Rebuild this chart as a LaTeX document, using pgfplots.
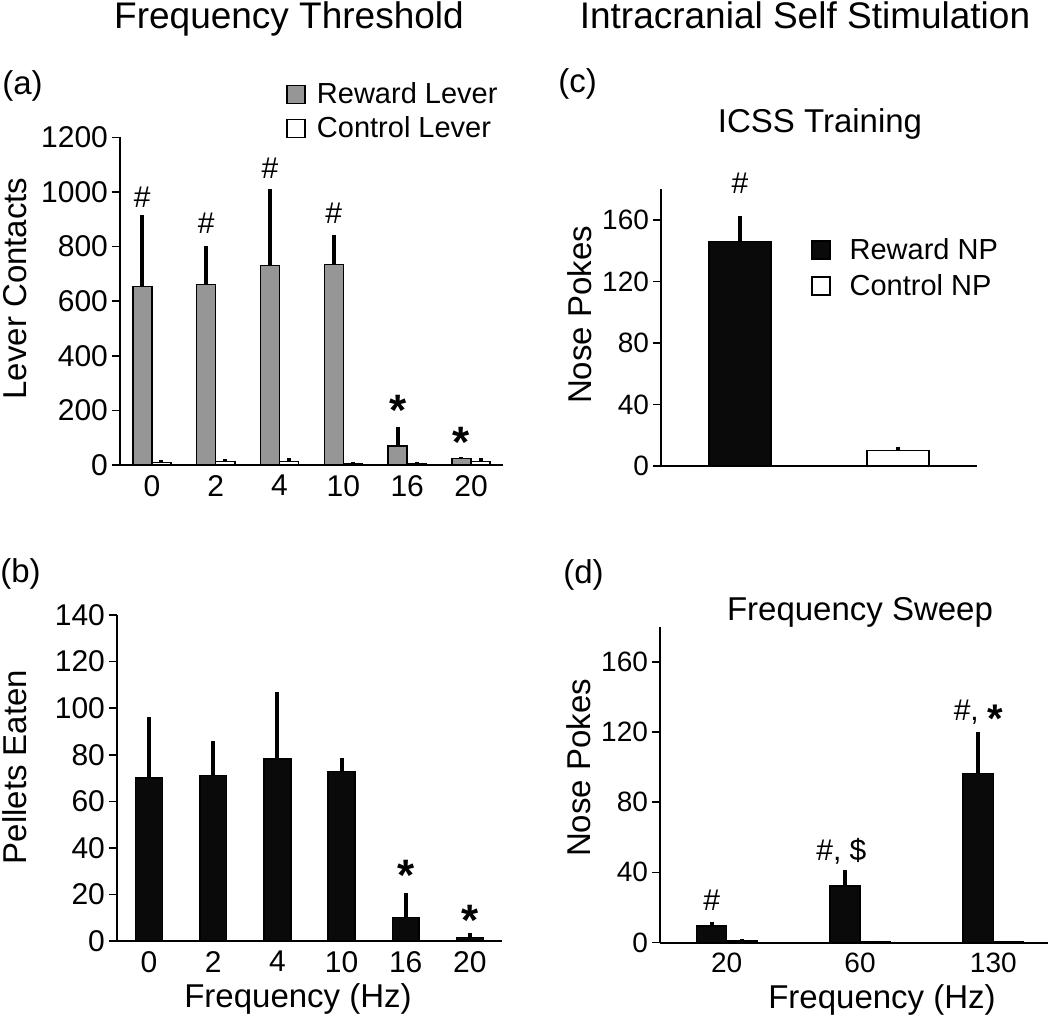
\documentclass[border=0pt]{standalone}
\usepackage{pgfplots}
\pgfplotsset{compat=1.18}
\usepackage{fontspec}
\setmainfont{Liberation Sans}
\definecolor{rwgray}{RGB}{150,150,150}
\definecolor{barblack}{RGB}{10,10,10}
\newcommand\fs[1]{\fontsize{#1}{#1}\selectfont}

\pgfplotsset{
  panel/.style={
    scale only axis, anchor=south west,
    axis x line*=bottom, axis y line*=left,
    axis line style={line width=1pt, -},
    ymin=0, clip=false,
    tick align=outside, major tick length=4pt,
    ytick style={line width=0.8pt, black},
    xtick style={draw=none},
    scaled y ticks=false,
    /pgf/number format/assume math mode=true,
    /pgf/number format/1000 sep={},
    tick label style={font=\fs{15}},
    yticklabel style={xshift=1.5pt},
    xticklabel style={yshift=2.5pt},
    ybar,
    legend style={draw=none, fill=none, font=\fs{14.5}, legend cell align=left,
      anchor=north west, row sep=2pt, nodes={inner sep=1.5pt},
      /tikz/every odd column/.append style={column sep=4pt}},
  },
  eb/.style={draw=black, line width=0.75pt,
    error bars/.cd, y dir=plus, y explicit, error mark=none,
    error bar style={line width=2pt, black}},
}
\tikzset{
  hash/.style={font=\fs{15}, anchor=base, yshift=-5.3pt, inner sep=0pt},
  star/.style={font=\fs{22}\bfseries, anchor=base, yshift=-12pt, inner sep=0pt},
}

\begin{document}
\begin{tikzpicture}
\useasboundingbox (0pt,0pt) rectangle (525pt,-509.5pt);

% column titles
\node[anchor=base, font=\fs{18.5}] at (144.5pt,-14pt) {Frequency Threshold};
\node[anchor=base, font=\fs{18.5}] at (402.5pt,-14pt) {Intracranial Self Stimulation};

% panel letters
\node[anchor=west, font=\fs{16.5}, inner sep=0pt] at (1pt,-43pt) {(a)};
\node[anchor=west, font=\fs{16.5}, inner sep=0pt] at (0pt,-287pt) {(b)};
\node[anchor=west, font=\fs{16.5}, inner sep=0pt] at (279pt,-42pt) {(c)};
\node[anchor=west, font=\fs{16.5}, inner sep=0pt] at (281.5pt,-287.5pt) {(d)};

% axis labels
\node[rotate=90, font=\fs{16.5}] at (7.5pt,-144.25pt) {Lever Contacts};
\node[rotate=90, font=\fs{16.5}] at (7.5pt,-383.5pt) {Pellets Eaten};
\node[rotate=90, font=\fs{16.5}] at (290pt,-157.5pt) {Nose Pokes};
\node[rotate=90, font=\fs{16.5}] at (289.5pt,-384pt) {Nose Pokes};
\node[anchor=base, font=\fs{16.5}] at (149pt,-503.5pt) {Frequency (Hz)};
\node[anchor=base, font=\fs{16.5}] at (441pt,-504pt) {Frequency (Hz)};
\node[anchor=base, font=\fs{16.5}] at (410pt,-66pt) {ICSS Training};
\node[anchor=base, font=\fs{16.5}] at (430pt,-310pt) {Frequency Sweep};

% (a) lever contacts
\begin{axis}[panel, at={(60pt,-232.5pt)}, width=191.5pt, height=163.85pt,
  xmin=-0.5, xmax=5.5, ymax=1200, ytick={0,200,...,1200},
  xtick={0,...,5}, xticklabels={0,2,4,10,16,20}, bar width=0.3,
  legend style={at={(0.418,1.19)}}]
\addlegendimage{legend image code/.code={\draw[fill=rwgray,draw=black,line width=0.75pt] (0pt,-4.5pt) rectangle (9pt,4.5pt);}}
\addlegendentry{Reward Lever}
\addlegendimage{legend image code/.code={\draw[fill=white,draw=black,line width=0.75pt] (0pt,-4.5pt) rectangle (9pt,4.5pt);}}
\addlegendentry{Control Lever}
\addplot[fill=rwgray, bar shift=-0.15, eb] coordinates {
  (0,653) +- (0,262) (1,661) +- (0,142) (2,730) +- (0,280)
  (3,735) +- (0,107) (4,70) +- (0,68) (5,24) +- (0,6)};
\addplot[fill=white, bar shift=0.15, eb] coordinates {
  (0,10) +- (0,7) (1,13) +- (0,9) (2,13) +- (0,13)
  (3,5) +- (0,5) (4,4) +- (0,8) (5,13) +- (0,13)};
\node[hash] at (axis cs:-0.15,981) {\#};
\node[hash] at (axis cs:0.85,886) {\#};
\node[hash] at (axis cs:1.85,1087) {\#};
\node[hash] at (axis cs:2.85,922) {\#};
\node[star] at (axis cs:3.85,232) {*};
\node[star] at (axis cs:4.85,117) {*};
\end{axis}

% (b) pellets eaten
\begin{axis}[panel, at={(58.5pt,-470.5pt)}, width=192.5pt, height=163pt,
  xmin=-0.5, xmax=5.5, ymax=140, ytick={0,20,...,140},
  xtick={0,...,5}, xticklabels={0,2,4,10,16,20}, bar width=0.42]
\addplot[fill=barblack, bar shift=0, eb] coordinates {
  (0,70.1) +- (0,26.2) (1,71.1) +- (0,14.8) (2,78.1) +- (0,28.7)
  (3,72.7) +- (0,6.0) (4,10.2) +- (0,10.3) (5,1.6) +- (0,2.0)};
\node[star] at (axis cs:4,31.9) {*};
\node[star] at (axis cs:5,12.6) {*};
\end{axis}

% (c) ICSS training
\begin{axis}[panel, at={(330.5pt,-233pt)}, width=158pt, height=138.4pt,
  xmin=-0.5, xmax=1.5, ymax=180, ytick={0,40,...,160}, xtick=\empty,
  bar width=0.39, tick label style={font=\fs{14}},
  legend style={at={(0.455,0.85)}, row sep=3pt,
    /tikz/every odd column/.append style={column sep=8pt}}]
\addlegendimage{legend image code/.code={\draw[fill=barblack,draw=black,line width=0.75pt] (0pt,-4.5pt) rectangle (9pt,4.5pt);}}
\addlegendentry{Reward NP}
\addlegendimage{legend image code/.code={\draw[fill=white,draw=black,line width=0.75pt] (0pt,-4.5pt) rectangle (9pt,4.5pt);}}
\addlegendentry{Control NP}
\addplot[fill=barblack, bar shift=0, eb] coordinates {(0,146) +- (0,16.7)};
\addplot[fill=white, bar shift=0, eb] coordinates {(1,10) +- (0,2.6)};
\node[hash] at (axis cs:0,184) {\#};
\end{axis}

% (d) frequency sweep
\begin{axis}[panel, at={(330pt,-471.25pt)}, width=194pt, height=157.85pt,
  xmin=-0.5, xmax=2.41, ymax=180, ytick={0,40,...,160},
  xtick={0,1,2}, xticklabels={20,60,130}, bar width=0.226,
  tick label style={font=\fs{14}}]
\addplot[fill=barblack, bar shift=-0.113, eb] coordinates {
  (0,9.4) +- (0,2.3) (1,32.3) +- (0,8.9) (2,96.5) +- (0,23.8)};
\addplot[fill=barblack, bar shift=0.113, eb] coordinates {
  (0,0.8) +- (0,1.0) (1,0.3) +- (0,0.8) (2,0.2) +- (0,0.8)};
\node[hash] at (axis cs:-0.113,24.5) {\#};
\node[hash] at (axis cs:0.86,53) {\#, \$};
\node[hash] at (axis cs:1.887,132.6) {\#, \raisebox{-6pt}{\fs{20}\bfseries *}};
\end{axis}
\end{tikzpicture}
\end{document}
